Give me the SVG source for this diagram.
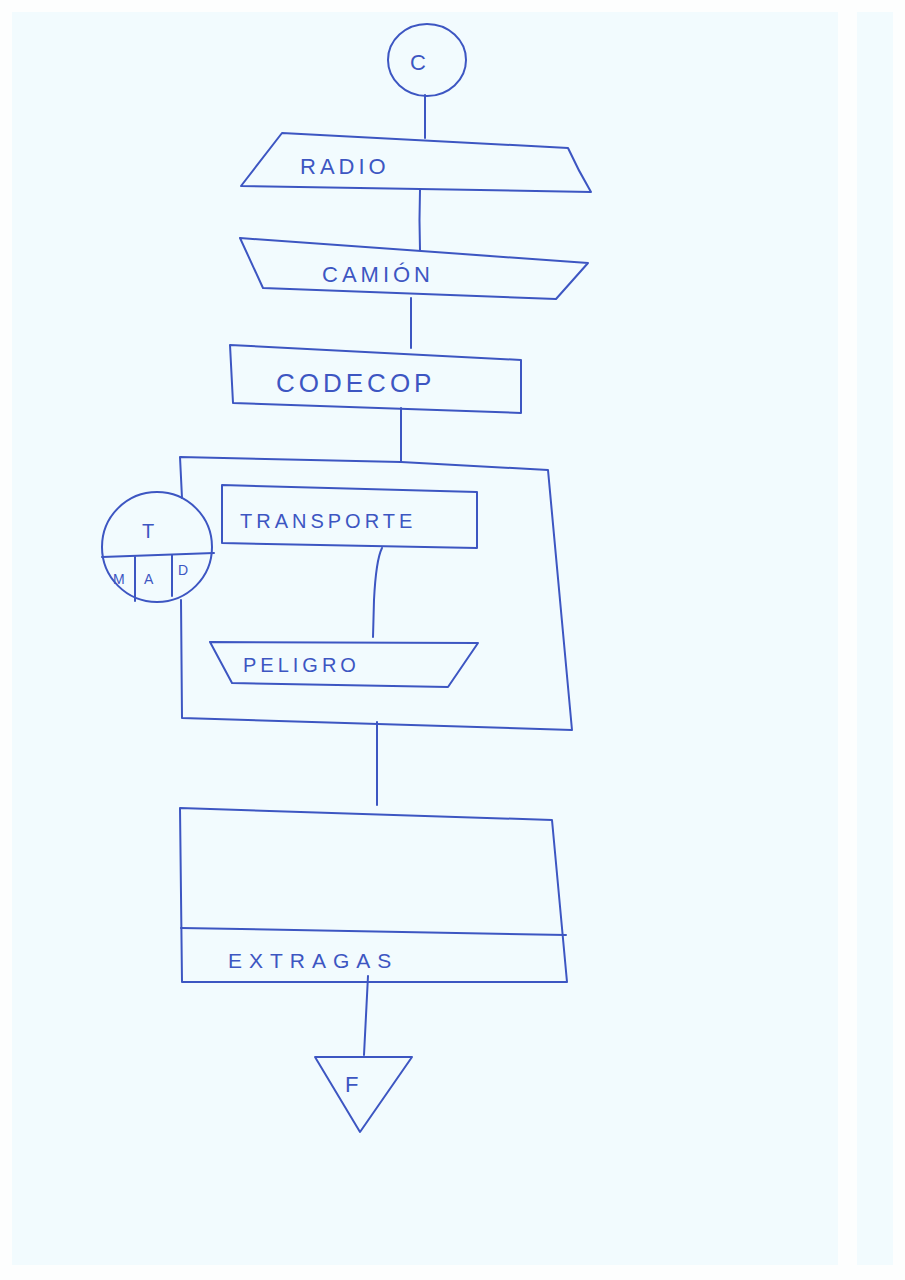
<svg xmlns="http://www.w3.org/2000/svg" width="905" height="1280" viewBox="0 0 905 1280">
  <style>
    .ink { fill: none; stroke: #3d56c2; stroke-width: 2; stroke-linejoin: round; stroke-linecap: round; }
    .lbl { font-family: "Liberation Sans", "DejaVu Sans", sans-serif; fill: #3d56c2; font-size: 22px; letter-spacing: 4px; }
    .sm { font-family: "Liberation Sans", "DejaVu Sans", sans-serif; fill: #3d56c2; font-size: 16px; }
  </style>
  <!-- paper -->
  <rect x="0" y="0" width="905" height="1280" fill="#fdfefe"/>
  <rect x="12" y="12" width="826" height="1253" fill="#f2fbfe"/>
  <rect x="857" y="12" width="36" height="1253" fill="#f2fbfe"/>

  <g id="connectors" class="ink">
    <path d="M425 95 L425 138"/>
    <path d="M420 190 Q419 220 420 250"/>
    <path d="M411 298 L411 348"/>
    <path d="M401 408 L401 462"/>
    <path d="M382 548 Q376 560 374 600 L373 637"/>
    <path d="M377 722 L377 805"/>
    <path d="M368 976 L364 1055"/>
  </g>

  <g id="start-c">
    <ellipse class="ink" cx="427" cy="60" rx="39" ry="36"/>
    <text class="lbl" x="410" y="70" style="letter-spacing:0">C</text>
  </g>

  <g id="radio">
    <path class="ink" d="M282 133 L568 148 Q578 170 591 192 L241 186 Z"/>
    <text class="lbl" x="300" y="174">RADIO</text>
  </g>

  <g id="camion">
    <path class="ink" d="M240 238 L588 263 L556 299 L263 288 Z"/>
    <text class="lbl" x="322" y="282">CAMIÓN</text>
  </g>

  <g id="codecop">
    <path class="ink" d="M230 345 L521 360 L521 413 L233 403 Z"/>
    <text class="lbl" x="276" y="392" style="font-size:26px">CODECOP</text>
  </g>

  <g id="bloque-transporte">
    <path class="ink" d="M182 498 L180 457 L401 462 L548 470 L572 730 L182 718 L181 600"/>
  </g>

  <g id="tipo-tmad">
    <circle class="ink" cx="157" cy="547" r="55"/>
    <path class="ink" d="M102 557 L214 553"/>
    <path class="ink" d="M135 557 L135 601"/>
    <path class="ink" d="M172 555 L172 596"/>
    <text class="sm" x="142" y="538" style="font-size:20px">T</text>
    <text class="sm" x="113" y="584" style="font-size:14px">M</text>
    <text class="sm" x="144" y="584" style="font-size:14px">A</text>
    <text class="sm" x="178" y="575" style="font-size:14px">D</text>
  </g>

  <g id="transporte">
    <path class="ink" d="M222 485 L477 492 L477 548 L222 543 Z"/>
    <text class="lbl" x="240" y="528" style="font-size:20px">TRANSPORTE</text>
  </g>

  <g id="peligro">
    <path class="ink" d="M210 642 L478 643 L448 687 L232 683 Z"/>
    <text class="lbl" x="243" y="672" style="font-size:20px">PELIGRO</text>
  </g>

  <g id="extragas">
    <path class="ink" d="M180 808 L552 820 L567 982 L182 982 Z"/>
    <path class="ink" d="M181 928 L566 935"/>
    <text class="lbl" x="228" y="968" style="font-size:21px;letter-spacing:7px">EXTRAGAS</text>
  </g>

  <g id="fin-f">
    <path class="ink" d="M315 1057 L412 1057 L360 1132 Z"/>
    <text class="lbl" x="345" y="1092" style="letter-spacing:0">F</text>
  </g>
</svg>
